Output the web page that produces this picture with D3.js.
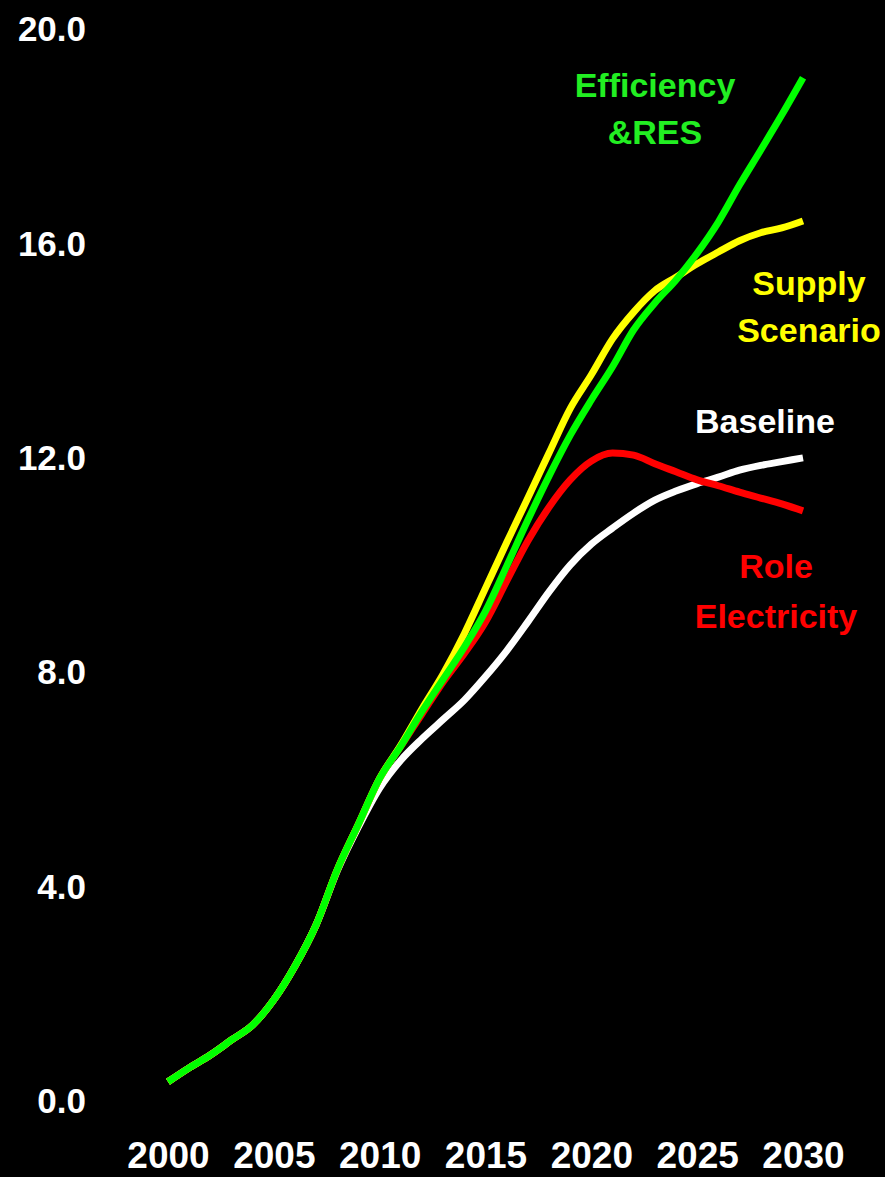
<!DOCTYPE html>
<html>
<head>
<meta charset="utf-8">
<script src="https://cdn.jsdelivr.net/npm/d3@7"></script>
<style>
  html, body { margin: 0; padding: 0; background: #000; }
  svg { display: block; }
  text { font-family: "Liberation Sans", Arial, sans-serif; font-weight: bold; }
</style>
</head>
<body>
<svg id="chart" width="885" height="1177"></svg>
<script>
const years = d3.range(2000, 2031);
const baseline = [0.34,0.6,0.84,1.12,1.4,1.87,2.5,3.27,4.28,5.1,5.82,6.34,6.74,7.1,7.46,7.9,8.38,8.92,9.48,9.98,10.37,10.67,10.95,11.19,11.36,11.5,11.62,11.75,11.84,11.91,11.98];
const roleElectricity = [0.34,0.6,0.84,1.12,1.4,1.87,2.5,3.27,4.3,5.15,6.0,6.6,7.2,7.8,8.33,8.92,9.68,10.43,11.06,11.57,11.92,12.07,12.03,11.87,11.72,11.57,11.46,11.34,11.23,11.12,10.99];
const supplyScenario = [0.34,0.6,0.84,1.12,1.4,1.87,2.5,3.27,4.3,5.15,6.0,6.62,7.3,7.95,8.7,9.55,10.4,11.23,12.07,12.9,13.53,14.2,14.7,15.1,15.35,15.6,15.82,16.03,16.18,16.27,16.4];
const efficiencyRES = [0.34,0.6,0.84,1.12,1.4,1.87,2.5,3.27,4.3,5.15,6.0,6.6,7.25,7.85,8.45,9.12,9.96,10.82,11.64,12.4,13.06,13.68,14.37,14.87,15.3,15.8,16.38,17.07,17.72,18.38,19.07];
const yTicks = [0, 4, 8, 12, 16, 20];
const xTicks = [2000, 2005, 2010, 2015, 2020, 2025, 2030];

const series = [
  { name: "Baseline", values: baseline, color: "#ffffff", label: ["Baseline"], lx: 765, ly: [433] },
  { name: "Role Electricity", values: roleElectricity, color: "#ff0000", label: ["Role", "Electricity"], lx: 776, ly: [578, 628] },
  { name: "Supply Scenario", values: supplyScenario, color: "#ffff00", label: ["Supply", "Scenario"], lx: 809, ly: [295, 342] },
  { name: "Efficiency &RES", values: efficiencyRES, color: "#00ff00", textColor: "#22ee22", label: ["Efficiency", "&RES"], lx: 655, ly: [97, 144] }
];

const svg = d3.select("#chart");
svg.append("rect").attr("width", 885).attr("height", 1177).attr("fill", "#000");

const x = d3.scaleLinear().domain([2000, 2030]).range([168, 803]);
const y = d3.scaleLinear().domain([0, 20]).range([1100, 28]);

// Y axis labels
const yAxis = d3.axisLeft(y).tickValues(yTicks).tickFormat(d3.format(".1f")).tickSize(0).tickPadding(0);
const gy = svg.append("g").attr("transform", "translate(86,0)").call(yAxis);
gy.select(".domain").remove();
gy.selectAll("text").attr("fill", "#fff").attr("font-size", 35).attr("dy", "0.36em")
  .style("font-family", "'Liberation Sans', Arial, sans-serif").style("font-weight", "bold");

// X axis labels
const xAxis = d3.axisBottom(x).tickValues(xTicks).tickFormat(d3.format("d")).tickSize(0).tickPadding(0);
const gx = svg.append("g").attr("transform", "translate(0,1141)").call(xAxis);
gx.select(".domain").remove();
gx.selectAll("text").attr("fill", "#fff").attr("font-size", 37).attr("dy", "0.72em")
  .style("font-family", "'Liberation Sans', Arial, sans-serif").style("font-weight", "bold");

const line = d3.line()
  .x((d, i) => x(years[i]))
  .y(d => y(d))
  .curve(d3.curveMonotoneX);

series.forEach(s => {
  svg.append("path")
    .datum(s.values)
    .attr("d", line)
    .attr("fill", "none")
    .attr("stroke", s.color)
    .attr("stroke-width", 7)
    .attr("stroke-linejoin", "round");
});

series.forEach(s => {
  s.label.forEach((t, i) => {
    svg.append("text")
      .attr("x", s.lx)
      .attr("y", s.ly[i])
      .attr("text-anchor", "middle")
      .attr("font-size", 34)
      .attr("fill", s.textColor || s.color)
      .text(t);
  });
});
</script>
</body>
</html>
